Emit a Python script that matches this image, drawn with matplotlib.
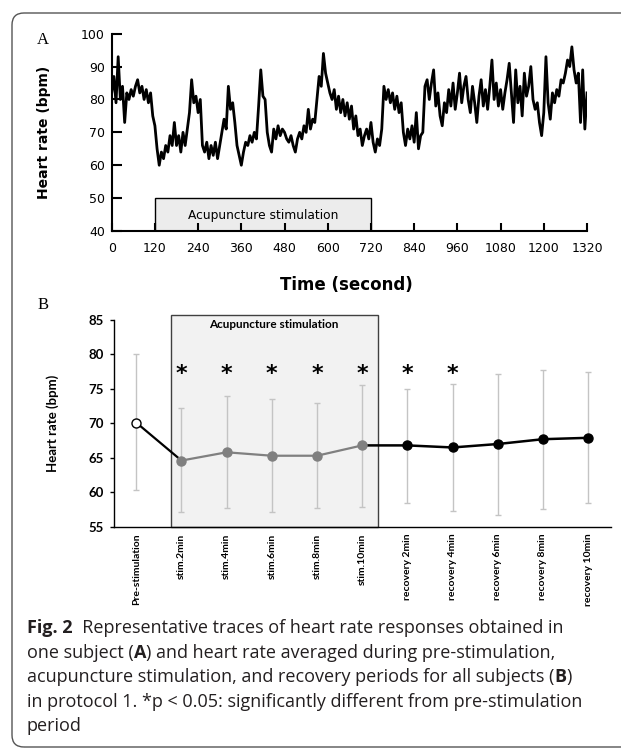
import numpy as np
import matplotlib
matplotlib.use("Agg")
import matplotlib.pyplot as plt
from matplotlib.patches import Rectangle, FancyBboxPatch
from matplotlib.transforms import IdentityTransform

# ---------------- Panel A data (heart rate trace, one subject) ----------------
sample_step_s = 6
hr_trace = [
    82, 87, 79, 93, 80, 84, 73, 82, 80, 83,
    81, 84, 86, 82, 84, 80, 83, 79, 82, 75,
    72, 65, 60, 64, 62, 66, 64, 69, 66, 73,
    66, 69, 64, 70, 66, 71, 76, 86, 79, 81,
    76, 80, 66, 64, 67, 62, 66, 63, 67, 62,
    66, 70, 74, 71, 84, 77, 79, 73, 66, 63,
    60, 64, 67, 66, 69, 67, 70, 68, 78, 89,
    81, 80, 70, 66, 64, 71, 68, 72, 69, 71,
    70, 68, 67, 69, 66, 64, 68, 70, 68, 72,
    70, 77, 71, 74, 73, 80, 87, 84, 94, 88,
    85, 82, 80, 83, 77, 81, 76, 80, 75, 79,
    74, 78, 71, 75, 69, 71, 66, 69, 71, 68,
    73, 67, 64, 68, 66, 71, 84, 80, 83, 79,
    82, 77, 81, 76, 79, 70, 66, 71, 68, 72,
    67, 76, 65, 69, 70, 84, 86, 80, 85, 89,
    78, 82, 75, 72, 79, 76, 83, 78, 85, 77,
    82, 88, 79, 84, 87, 80, 76, 84, 79, 73,
    81, 86, 78, 83, 77, 84, 92, 80, 85, 78,
    83, 77, 82, 86, 91, 82, 73, 89, 79, 84,
    75, 88, 81, 84, 90, 80, 77, 79, 73, 69,
    76, 93, 79, 74, 82, 79, 83, 81, 86, 85,
    88, 92, 90, 96, 89, 85, 88, 73, 89, 71, 82,
]
trace_time = np.arange(len(hr_trace)) * sample_step_s
stim_start_s, stim_end_s = 120, 720
a_xticks = [0, 120, 240, 360, 480, 600, 720, 840, 960, 1080, 1200, 1320]
a_yticks = [40, 50, 60, 70, 80, 90, 100]

# ---------------- Panel B data (group means) ----------------
categories = ['Pre-stimulation', 'stim.2min', 'stim.4min', 'stim.6min', 'stim.8min',
              'stim.10min', 'recovery 2min', 'recovery 4min', 'recovery 6min',
              'recovery 8min', 'recovery 10min']
means = [70.1, 64.6, 65.8, 65.3, 65.3, 66.8, 66.8, 66.5, 67.0, 67.7, 67.9]
err_upper = [80.0, 72.3, 74.0, 73.5, 72.9, 75.6, 75.0, 75.7, 77.2, 77.7, 77.4]
err_lower = [60.3, 57.1, 57.7, 57.2, 57.7, 57.9, 58.5, 57.3, 56.7, 57.6, 58.5]
significant = [False, True, True, True, True, True, True, True, False, False, False]
b_yticks = [55, 60, 65, 70, 75, 80, 85]

W, H = 621, 749
fig = plt.figure(figsize=(W / 100, H / 100), dpi=100)

def fx(px):
    return px / W

def fy(py):
    return 1 - py / H

# ---------------- border ----------------
border = FancyBboxPatch((12, H - 747), 680, 747 - 13,
                        boxstyle="round,pad=0,rounding_size=12",
                        transform=IdentityTransform(), fill=False,
                        edgecolor='#555555', lw=1.0)
fig.add_artist(border)

# ---------------- Panel A ----------------
axA = fig.add_axes([fx(111.7), fy(231), fx(587) - fx(111.7), fy(33.7) - fy(231)])
axA.plot(trace_time, hr_trace, color='black', lw=2.0, zorder=3)
axA.add_patch(Rectangle((stim_start_s, 40), stim_end_s - stim_start_s, 10,
                        facecolor='#ececec', edgecolor='black', lw=1.0, zorder=1))
axA.text((stim_start_s + stim_end_s) / 2, 44.6, 'Acupuncture stimulation',
         ha='center', va='center', fontsize=8.8, family='DejaVu Sans', zorder=4)
axA.set_xlim(0, 1320)
axA.set_ylim(40, 100)
axA.set_xticks(a_xticks)
axA.set_yticks(a_yticks)
for s in ['top', 'right']:
    axA.spines[s].set_visible(False)
for s in ['left', 'bottom']:
    axA.spines[s].set_linewidth(1.5)
axA.tick_params(axis='x', direction='in', length=6, width=1.5, labelsize=9, pad=8)
axA.tick_params(axis='y', direction='in', length=7, width=1.5, labelsize=9, pad=5)
axA.set_ylabel('Heart rate (bpm)', fontsize=10, fontweight='bold')
axA.yaxis.set_label_coords((51 - 111.7) / (587 - 111.7), 0.5)
fig.text(fx(346), fy(285), 'Time (second)', ha='center', va='center', fontsize=12,
         fontweight='bold')
fig.text(fx(43), fy(40), 'A', ha='center', va='center', fontsize=12, family='Liberation Serif')

# ---------------- Panel B ----------------
axB = fig.add_axes([fx(113.7), fy(526.7), fx(610.7) - fx(113.7), fy(320) - fy(526.7)])
x = np.arange(len(categories))
axB.set_xlim(-0.5, 10.5)
axB.set_ylim(55, 85)
axB.add_patch(Rectangle((0.76, 55), 5.34 - 0.76, 85.75 - 55, facecolor='#f2f2f2',
                        edgecolor='#404040', lw=1.0, zorder=0, clip_on=False))
axB.text((0.76 + 5.34) / 2, 84.35, 'Acupuncture stimulation', ha='center', va='center',
         fontsize=8.5, fontweight='bold', family='Lato')
m = np.array(means)
axB.errorbar(x, m, yerr=[m - np.array(err_lower), np.array(err_upper) - m], fmt='none',
             ecolor='#c4c4c4', elinewidth=1.0, capsize=2.2, capthick=1.0, zorder=1)
axB.plot(x[0:2], m[0:2], color='black', lw=1.6, zorder=2)
axB.plot(x[1:6], m[1:6], color='#808080', lw=1.6, zorder=2)
axB.plot(x[5:], m[5:], color='black', lw=1.8, zorder=2)
axB.plot(x[0:1], m[0:1], 'o', ms=6.5, mfc='white', mec='black', mew=1.0, zorder=4)
axB.plot(x[1:6], m[1:6], 'o', ms=6.5, mfc='#808080', mec='#808080', zorder=4)
axB.plot(x[6:], m[6:], 'o', ms=6.5, mfc='black', mec='black', zorder=4)
for i, sig in enumerate(significant):
    if sig:
        axB.text(x[i], 77.2, '*', ha='center', va='center', fontsize=16,
                 fontweight='bold', family='DejaVu Sans', color='black')
axB.set_yticks(b_yticks)
axB.set_xticks(x)
axB.set_xticklabels(categories, rotation=90, fontsize=7.5, fontweight='bold', family='Lato')
for lab in axB.get_yticklabels():
    lab.set_fontweight('bold')
    lab.set_family('Lato')
    lab.set_fontsize(9.5)
for s in ['top', 'right']:
    axB.spines[s].set_visible(False)
axB.spines['left'].set_linewidth(1.0)
axB.spines['bottom'].set_linewidth(1.0)
axB.tick_params(axis='x', length=0, pad=5)
axB.tick_params(axis='y', length=3, width=1.0, pad=4)
axB.set_ylabel('Heart rate (bpm)', fontsize=9.5, fontweight='bold', family='Lato')
axB.yaxis.set_label_coords((59.4 - 113.7) / (610.7 - 113.7), 0.5)
fig.text(fx(43), fy(305), 'B', ha='center', va='center', fontsize=12, family='Liberation Serif')

# ---------------- caption ----------------
cap_lines = [
    [("Fig. 2", 'bold'), ("  Representative traces of heart rate responses obtained in", 'normal')],
    [("one subject (", 'normal'), ("A", 'bold'), (") and heart rate averaged during pre-stimulation,", 'normal')],
    [("acupuncture stimulation, and recovery periods for all subjects (", 'normal'), ("B", 'bold'), (")", 'normal')],
    [("in protocol 1. *p < 0.05: significantly different from pre-stimulation", 'normal')],
    [("period", 'normal')],
]
cap_y = [628, 653, 677, 702, 726]
renderer = fig.canvas.get_renderer()
for line, yy in zip(cap_lines, cap_y):
    xpos = 27
    for txt, wt in line:
        t = fig.text(fx(xpos), fy(yy), txt, ha='left', va='center', fontsize=13,
                     fontweight=wt, family='Open Sans', color='#231f20')
        bb = t.get_window_extent(renderer=renderer)
        xpos += bb.width

fig.savefig('out.png', dpi=100)
